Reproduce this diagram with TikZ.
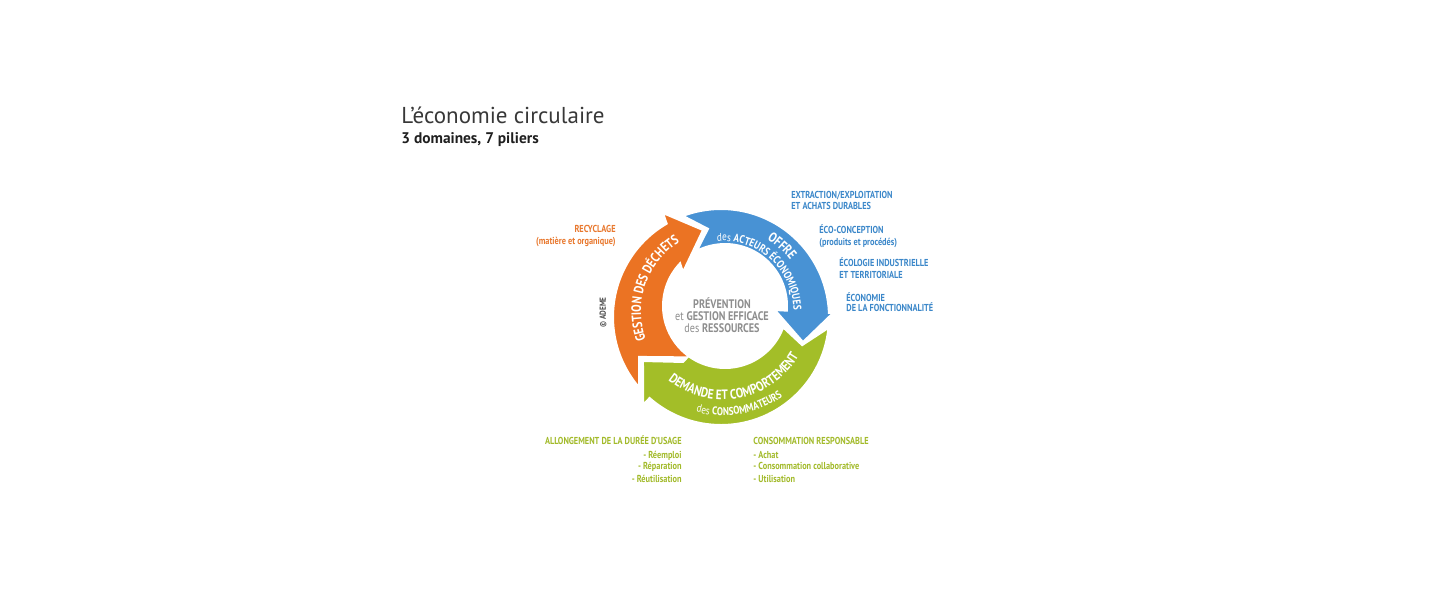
\documentclass[tikz,border=0pt]{standalone}
\usepackage{fontspec}
\setmainfont{PT Sans}
\newfontfamily\cond{PT Sans}[FakeStretch=0.82]
\usetikzlibrary{calc, decorations.text}

\definecolor{recyc}{HTML}{EB7323}
\definecolor{offre}{HTML}{4892D4}
\definecolor{demande}{HTML}{A3BE28}
\definecolor{recyctxt}{HTML}{E8782E}
\definecolor{offretxt}{HTML}{3B87C9}
\definecolor{demandetxt}{HTML}{A2BA2A}
\definecolor{centretxt}{HTML}{8E8E8E}

\newcommand\bandmain{\cond\bfseries\fontsize{6.8}{7}\selectfont\color{white}}
\newcommand\bandthin{\cond\fontsize{5.6}{6}\selectfont\color{white}}
\newcommand\bandbold{\cond\bfseries\fontsize{5.6}{6}\selectfont\color{white}}

\begin{document}
\begin{tikzpicture}[
x=0.5pt, y=0.5pt,
lab/.style={inner sep=0pt, font=\cond\bfseries\fontsize{5.05}{5.5}\selectfont},
bluelab/.style={lab, text=offretxt, anchor=base west},
greenlab/.style={lab, text=demandetxt},
centre/.style={inner sep=0pt, anchor=base, text=centretxt, font=\cond\fontsize{6.2}{7}\selectfont},
arrowband/.style={draw=white, line width=1pt}
]
\useasboundingbox (0,0) rectangle (1440,-600);

% centres of the ring
\coordinate (co) at (721,-317);
\coordinate (ci) at (725,-306);
\coordinate (cm) at (723,-311.5);

% title
\node[inner sep=0pt, anchor=base west, text=black!78, font=\fontsize{11.5}{12}\selectfont] (title) at (401,-123.3) {L’économie circulaire};
\node[inner sep=0pt, anchor=base west, text=black!88, font=\bfseries\fontsize{7.7}{8}\selectfont] (subtitle) at (401,-143.3) {3 domaines, 7 piliers};

% the three arrows
\path[arrowband, fill=recyc] ($(co)+(220.6:108)$) arc[start angle=220.6, end angle=120.2, radius=108]
  -- ($(cm)+(121.35:115.3)$) -- ($(cm)+(103.8:83.9)$) -- ($(cm)+(135.4:56.2)$)
  -- ($(ci)+(136.4:62)$) arc[start angle=136.4, end angle=236, radius=62]
  -- ($(cm)+(208.4:95.5)$) -- cycle;
\path[arrowband, fill=offre] ($(co)+(110.6:108)$) arc[start angle=110.6, end angle=2.2, radius=108]
  -- ($(cm)+(-0.8:110)$) -- ($(cm)+(-20.9:85.6)$) -- ($(cm)+(1.65:52)$)
  -- ($(ci)+(-4.3:62)$) arc[start angle=-4.3, end angle=117, radius=62]
  -- ($(cm)+(100.3:84)$) -- cycle;
\path[arrowband, fill=demande] ($(co)+(-5.8:108)$) arc[start angle=-5.8, end angle=-131.4, radius=108]
  -- ($(cm)+(229.45:123)$) -- ($(cm)+(211.75:94.1)$) -- ($(cm)+(231.6:64.4)$)
  -- ($(ci)+(-126:62)$) arc[start angle=-126, end angle=-20.2, radius=62]
  -- ($(cm)+(-23:86)$) -- cycle;

% text on the arrows
\path[decorate, decoration={text along path, text align=center, text={|\bandmain|GESTION DES DÉCHETS}}]
  ($(cm)+(215:82)$) arc[start angle=215, end angle=107, radius=82];
\path[decorate, decoration={text along path, text align=center, text={|\bandmain|OFFRE}}]
  ($(cm)+(80:84.5)$) arc[start angle=80, end angle=16, radius=84.5];
\path[decorate, decoration={text along path, text align=center, text={|\bandthin|des |\bandbold|ACTEURS ÉCONOMIQUES}}]
  ($(cm)+(110:70.5)$) arc[start angle=110, end angle=-14, radius=70.5];
\path[decorate, decoration={text along path, text align=center, text={|\bandmain|DEMANDE ET COMPORTEMENT}}]
  ($(cm)+(210:88)$) arc[start angle=210, end angle=351, radius=88];
\path[decorate, decoration={text along path, text align=center, text={|\bandthin|des |\bandbold|CONSOMMATEURS}}]
  ($(cm)+(230:104)$) arc[start angle=230, end angle=330, radius=104];

% centre
\node[centre] (prev) at (722,-308.5) {\bfseries PRÉVENTION};
\node[centre] (gest) at (722,-320.5) {et \textbf{GESTION EFFICACE}};
\node[centre] (ress) at (722,-332.5) {des \textbf{RESSOURCES}};

\node[inner sep=0pt, rotate=90, text=black!70, font=\cond\bfseries\fontsize{4.4}{5}\selectfont] (ademe) at (603,-312.5) {© ADEME};

% recyclage
\node[lab, text=recyctxt, anchor=base east] (recy) at (616,-232.3) {RECYCLAGE};
\node[lab, text=recyctxt, anchor=base east] (matiere) at (616,-244.5) {(matière et organique)};

% offre
\node[bluelab] (extr) at (791,-198) {EXTRACTION/EXPLOITATION};
\node[bluelab] (achats) at (791,-209.7) {ET ACHATS DURABLES};
\node[bluelab] (ecoc) at (819,-233) {ÉCO-CONCEPTION};
\node[bluelab] (produits) at (819,-245) {(produits et procédés)};
\node[bluelab] (ecol) at (839,-266.5) {ÉCOLOGIE INDUSTRIELLE};
\node[bluelab] (territ) at (839,-278) {ET TERRITORIALE};
\node[bluelab] (econ) at (846,-301) {ÉCONOMIE};
\node[bluelab] (fonct) at (846,-311.3) {DE LA FONCTIONNALITÉ};

% demande
\node[greenlab, anchor=base east] (allong) at (682,-444) {ALLONGEMENT DE LA DURÉE D’USAGE};
\node[greenlab, anchor=base east] (reemploi) at (682,-458) {- Réemploi};
\node[greenlab, anchor=base east] (repar) at (682,-469.7) {- Réparation};
\node[greenlab, anchor=base east] (reutil) at (682,-482) {- Réutilisation};
\node[greenlab, anchor=base west] (conso) at (753,-444) {CONSOMMATION RESPONSABLE};
\node[greenlab, anchor=base west] (achat) at (753,-458) {- Achat};
\node[greenlab, anchor=base west] (collab) at (753,-469.7) {- Consommation collaborative};
\node[greenlab, anchor=base west] (utilis) at (753,-482) {- Utilisation};

\end{tikzpicture}
\end{document}
